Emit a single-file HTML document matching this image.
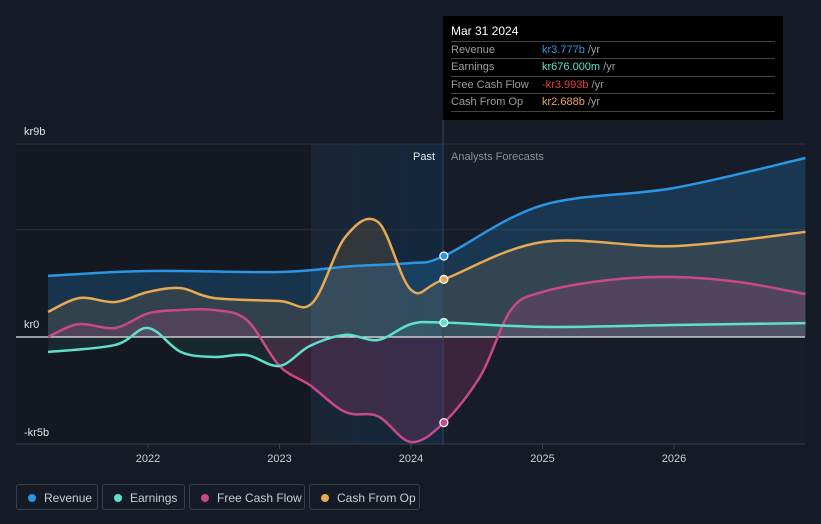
<!DOCTYPE html>
<html><head><meta charset="utf-8"><style>
body{margin:0;background:#151b26;font-family:"Liberation Sans",sans-serif;}
#wrap{position:relative;width:821px;height:524px;overflow:hidden;background:#151b26}
.lg{position:absolute;top:484px;height:26px;border:1px solid #3a404b;border-radius:3px;color:#c9ccd1;font-size:12px;line-height:26px;box-sizing:border-box;padding-left:27px}
.lg i{position:absolute;left:11px;top:9px;width:8px;height:8px;border-radius:50%}
#tip{position:absolute;left:443px;top:16px;width:340px;height:104px;background:#000;color:#fff;font-size:11px}
#tip .r{position:absolute;left:8px;width:324px;border-top:1px solid #444;height:17px;line-height:17px;color:#9a9ea5}
#tip .r span{position:absolute;left:91px}
</style></head><body>
<div id="wrap">
<svg id="svg" width="821" height="524" style="position:absolute;left:0;top:0"></svg>
<div id="tip">
<div style="position:absolute;left:8px;top:8px;font-size:12px">Mar 31 2024</div>
<div class="r" style="top:25px">Revenue<span style="color:#2b95e6">kr3.777b <b style="font-weight:normal;color:#9a9ea5">/yr</b></span></div>
<div class="r" style="top:42px">Earnings<span style="color:#5ee0cc">kr676.000m <b style="font-weight:normal;color:#9a9ea5">/yr</b></span></div>
<div class="r" style="top:60px">Free Cash Flow<span style="color:#ee3b3b">-kr3.993b <b style="font-weight:normal;color:#9a9ea5">/yr</b></span></div>
<div class="r" style="top:77px;border-bottom:1px solid #444">Cash From Op<span style="color:#e8a953">kr2.688b <b style="font-weight:normal;color:#9a9ea5">/yr</b></span></div>
</div>
<div class="lg" style="left:16px;width:82px"><i style="background:#2b95e6"></i>Revenue</div>
<div class="lg" style="left:102px;width:83px"><i style="background:#5ee0cc"></i>Earnings</div>
<div class="lg" style="left:189px;width:116px"><i style="background:#c9488a"></i>Free Cash Flow</div>
<div class="lg" style="left:309px;width:111px"><i style="background:#e8a953"></i>Cash From Op</div>
</div>
<script>
const revT=[2021.24,2022,2023,2023.54,2024,2024.25,2025,2026,2027];
const revV=[2.85,3.08,3.03,3.3,3.45,3.777,6.15,6.95,8.35];
const earT=[2021.24,2021.75,2022,2022.25,2022.5,2022.75,2023,2023.23,2023.5,2023.75,2024,2024.25,2025,2026,2027];
const earV=[-0.7,-0.37,0.42,-0.7,-0.93,-0.84,-1.35,-0.42,0.1,-0.14,0.6,0.676,0.47,0.56,0.65];
const fcfT=[2021.24,2021.47,2021.75,2022,2022.25,2022.5,2022.75,2023,2023.23,2023.5,2023.75,2024,2024.25,2024.53,2024.76,2025,2025.5,2026,2026.5,2027];
const fcfV=[0,0.6,0.42,1.1,1.26,1.26,0.8,-1.35,-2.24,-3.5,-3.7,-4.9,-3.993,-1.8,1.26,2.1,2.66,2.8,2.56,2.0];
const cfoT=[2021.24,2021.48,2021.75,2022,2022.25,2022.5,2023,2023.25,2023.5,2023.75,2024,2024.25,2025,2026,2027];
const cfoV=[1.17,1.82,1.63,2.1,2.28,1.82,1.68,1.59,4.66,5.36,2.2,2.688,4.43,4.24,4.9];
const yTicks=[9,0,-5];const yLabels=['kr9b','kr0','-kr5b'];
const xTicks=[2022,2023,2024,2025,2026];
const X=t=>148+(t-2022)*131.5, Y=v=>337-v*21.44;
const svg=document.getElementById('svg'),NS='http://www.w3.org/2000/svg';
function mk(tag,at,name){const e=document.createElementNS(NS,tag);for(const k in at)e.setAttribute(k,at[k]);


svg.appendChild(e);return e;}
const defs=mk('defs',{},'defs');
defs.innerHTML='<linearGradient id="pg" x1="0" x2="1"><stop offset="0" stop-color="#1a2636"/><stop offset="1" stop-color="#13283e"/></linearGradient>';
mk('rect',{x:16,y:144,width:295,height:300,fill:'#141820'},'past-dark-region');
mk('rect',{x:311,y:144,width:132,height:300,fill:'url(#pg)'},'past-highlight-region');
mk('rect',{x:443,y:144,width:362,height:300,fill:'#171d28'},'forecast-region');
[9,5].forEach(v=>mk('line',{x1:16,x2:805,y1:Y(v),y2:Y(v),stroke:'#2c323c'},'gridline'));
mk('line',{x1:16,x2:805,y1:444,y2:444,stroke:'#3b414b'},'x-axis-line');
function path(T,V){const p=T.map((t,i)=>[X(t),Y(V[i])]);let d='M'+p[0];for(let i=0;i<p.length-1;i++){const a=p[i-1]||p[i],b=p[i],c=p[i+1],e=p[i+2]||c;
d+=` C${b[0]+(c[0]-a[0])/6},${b[1]+(c[1]-a[1])/6} ${c[0]-(e[0]-b[0])/6},${c[1]-(e[1]-b[1])/6} ${c[0]},${c[1]}`;}return [d,p];}
const S=[[revT,revV,'#2b95e6','revenue',0.22],[cfoT,cfoV,'#e8a953','cash-from-op',0.13],[fcfT,fcfV,'#c9488a','free-cash-flow',0.2],[earT,earV,'#5ee0cc','earnings',0.08]];
S.forEach(s=>{const [d,p]=path(s[0],s[1]);mk('path',{d:d+` L${p[p.length-1][0]},337 L${p[0][0]},337 Z`,fill:s[2],'fill-opacity':s[4]},s[3]+'-area');});
mk('line',{x1:16,x2:805,y1:337,y2:337,stroke:'#e8e8e8','stroke-width':1.2},'zero-line');
S.forEach(s=>{const [d]=path(s[0],s[1]);mk('path',{d,fill:'none',stroke:s[2],'stroke-width':2.5},s[3]+'-line');});
mk('line',{x1:443,x2:443,y1:120,y2:444,stroke:'#3a4656'},'now-line');
S.forEach(s=>{const i=s[0].indexOf(2024.25);mk('circle',{cx:X(2024.25),cy:Y(s[1][i]),r:4,fill:s[2],stroke:'#fff','stroke-width':1.2},s[3]+'-marker');});
yTicks.forEach((v,i)=>{const t=mk('text',{x:24,y:Y(v)+(v===9?-9:v===0?-9:-8),fill:'#e0e0e0','font-size':11},'y-tick-label');t.textContent=yLabels[i];});
xTicks.forEach(v=>{mk('line',{x1:X(v),x2:X(v),y1:444,y2:449,stroke:'#3b414b'},'x-tick');const t=mk('text',{x:X(v),y:462,fill:'#c9ccd1','font-size':11,'text-anchor':'middle'},'x-tick-label');t.textContent=v;});
let t=mk('text',{x:435,y:160,fill:'#e8e8e8','font-size':11,'text-anchor':'end'},'past-label');t.textContent='Past';
t=mk('text',{x:451,y:160,fill:'#8a8f97','font-size':11},'forecast-label');t.textContent='Analysts Forecasts';
</script>
</body></html>
